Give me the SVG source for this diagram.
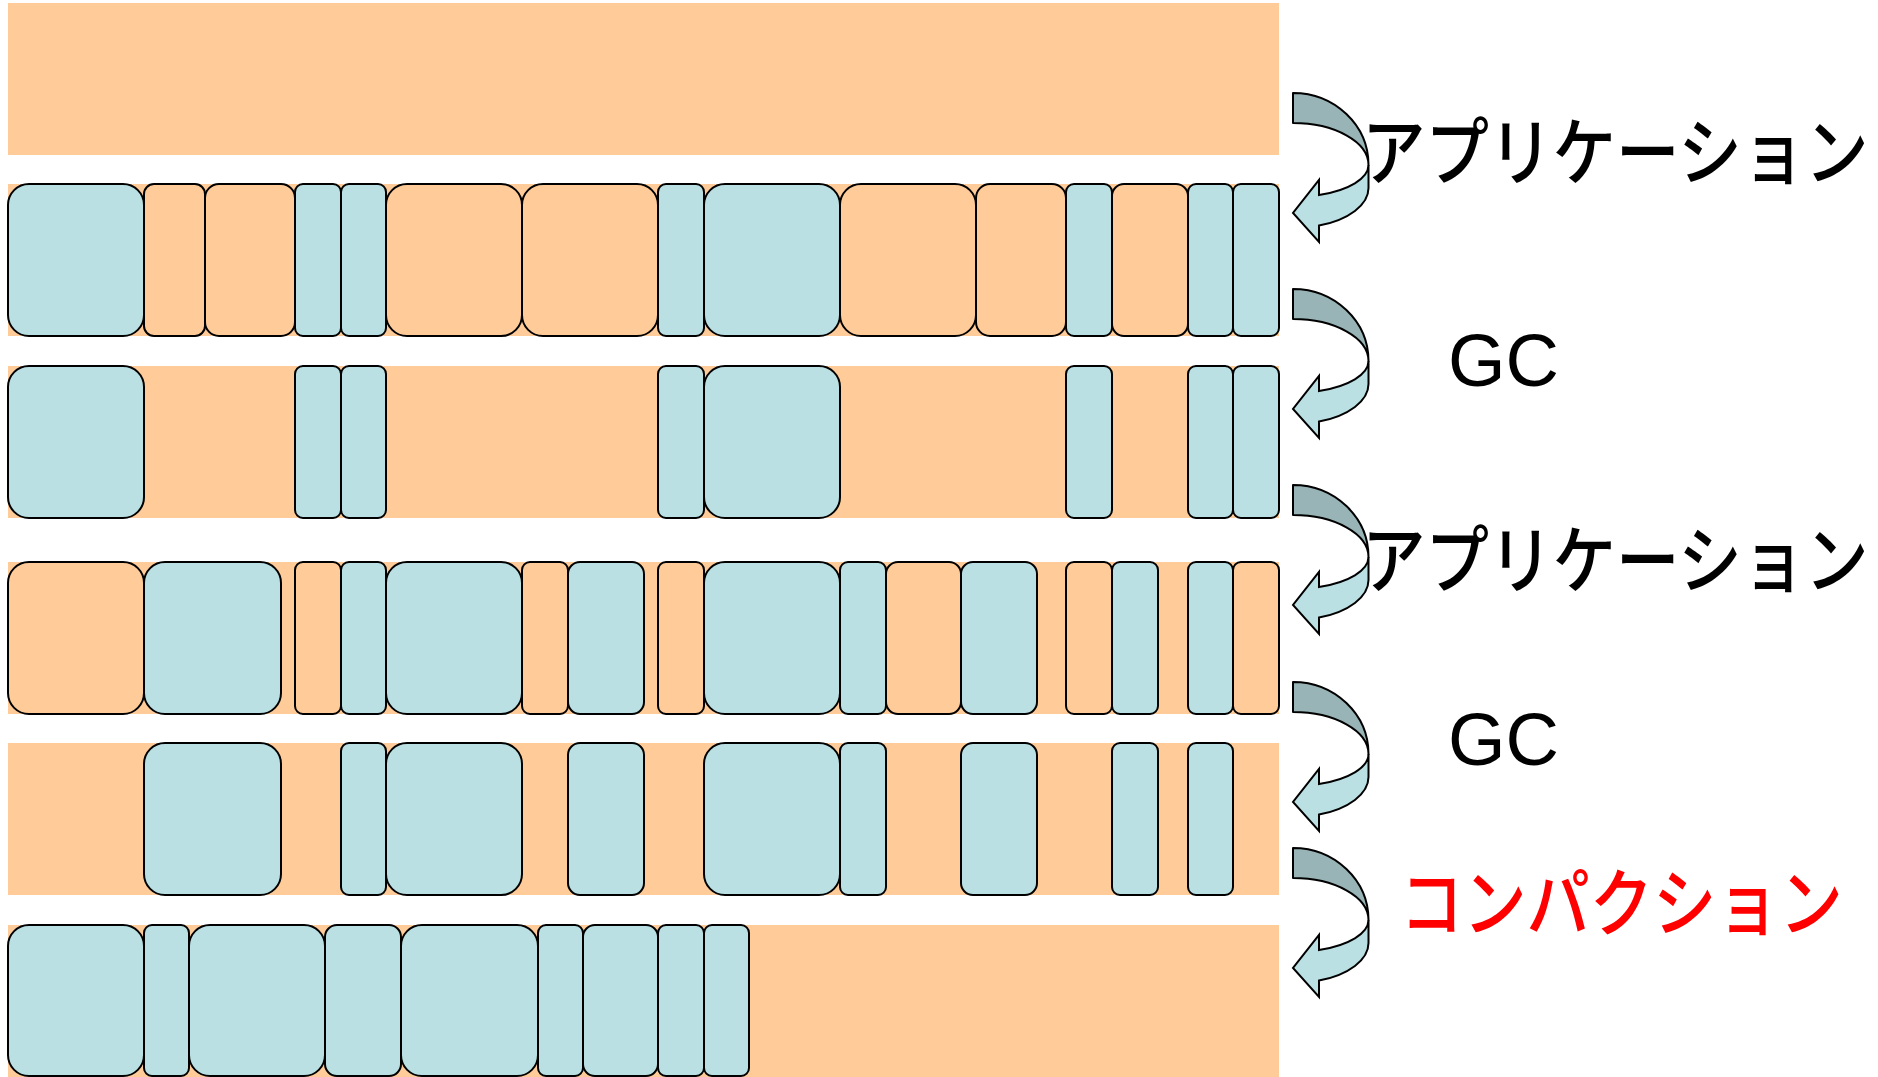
<svg xmlns="http://www.w3.org/2000/svg" width="1878" height="1077" viewBox="0 0 1878 1077">
<style>
.band{fill:#FFCC99}
.b{fill:#BBE0E3;stroke:#000;stroke-width:2}
.o{fill:#FFCC99;stroke:#000;stroke-width:2}
.ad{fill:#98B4B6;stroke:#000;stroke-width:2;stroke-linejoin:round}
.al{fill:#BBE0E3;stroke:#000;stroke-width:2;stroke-linejoin:miter}
.jp{font-family:"Noto Sans CJK JP","Noto Sans CJK SC",sans-serif;font-size:74px;font-weight:500}
.gc{font-family:"Liberation Sans",Arial,sans-serif;font-size:74px;fill:#000}
</style>
<defs>
<g id="carrow">
<path class="al" d="M75.5,72 L75.5,95 A75.5,40 0 0 1 26,132.6 L26,149 L0,120 L26,87 L26,102 A75.5,32 0 0 0 75.5,72 Z"/>
<path class="ad" d="M0,0 A75.5,72 0 0 1 75.5,72 A75.5,42 0 0 0 0,30 Z"/>
</g>
</defs>
<rect width="1878" height="1077" fill="#fff"/>

<g id="row1">
<rect class="band" x="8" y="3" width="1271" height="152"/>
</g>

<g id="row2">
<rect class="band" x="8" y="184" width="1271" height="152"/>
<rect class="b" x="8" y="184" width="136" height="152" rx="21"/>
<rect class="o" x="144" y="184" width="61" height="152" rx="10"/>
<rect class="o" x="205" y="184" width="90" height="152" rx="14"/>
<rect class="b" x="295" y="184" width="46" height="152" rx="8"/>
<rect class="b" x="341" y="184" width="45" height="152" rx="8"/>
<rect class="o" x="386" y="184" width="136" height="152" rx="21"/>
<rect class="o" x="522" y="184" width="136" height="152" rx="21"/>
<rect class="b" x="658" y="184" width="46" height="152" rx="8"/>
<rect class="b" x="704" y="184" width="136" height="152" rx="21"/>
<rect class="o" x="840" y="184" width="136" height="152" rx="21"/>
<rect class="o" x="976" y="184" width="90" height="152" rx="14"/>
<rect class="b" x="1066" y="184" width="46" height="152" rx="8"/>
<rect class="o" x="1112" y="184" width="76" height="152" rx="12"/>
<rect class="b" x="1188" y="184" width="45" height="152" rx="8"/>
<rect class="b" x="1233" y="184" width="46" height="152" rx="8"/>
</g>

<g id="row3">
<rect class="band" x="8" y="366" width="1271" height="152"/>
<rect class="b" x="8" y="366" width="136" height="152" rx="21"/>
<rect class="b" x="295" y="366" width="46" height="152" rx="8"/>
<rect class="b" x="341" y="366" width="45" height="152" rx="8"/>
<rect class="b" x="658" y="366" width="46" height="152" rx="8"/>
<rect class="b" x="704" y="366" width="136" height="152" rx="21"/>
<rect class="b" x="1066" y="366" width="46" height="152" rx="8"/>
<rect class="b" x="1188" y="366" width="45" height="152" rx="8"/>
<rect class="b" x="1233" y="366" width="46" height="152" rx="8"/>
</g>

<g id="row4">
<rect class="band" x="8" y="562" width="1271" height="152"/>
<rect class="o" x="8" y="562" width="136" height="152" rx="21"/>
<rect class="b" x="144" y="562" width="137" height="152" rx="21"/>
<rect class="o" x="295" y="562" width="46" height="152" rx="8"/>
<rect class="b" x="341" y="562" width="45" height="152" rx="8"/>
<rect class="b" x="386" y="562" width="136" height="152" rx="21"/>
<rect class="o" x="522" y="562" width="46" height="152" rx="8"/>
<rect class="b" x="568" y="562" width="76" height="152" rx="12"/>
<rect class="o" x="658" y="562" width="46" height="152" rx="8"/>
<rect class="b" x="704" y="562" width="136" height="152" rx="21"/>
<rect class="b" x="840" y="562" width="46" height="152" rx="8"/>
<rect class="o" x="886" y="562" width="75" height="152" rx="12"/>
<rect class="b" x="961" y="562" width="76" height="152" rx="12"/>
<rect class="o" x="1066" y="562" width="46" height="152" rx="8"/>
<rect class="b" x="1112" y="562" width="46" height="152" rx="8"/>
<rect class="b" x="1188" y="562" width="45" height="152" rx="8"/>
<rect class="o" x="1233" y="562" width="46" height="152" rx="8"/>
</g>

<g id="row5">
<rect class="band" x="8" y="743" width="1271" height="152"/>
<rect class="b" x="144" y="743" width="137" height="152" rx="21"/>
<rect class="b" x="341" y="743" width="45" height="152" rx="8"/>
<rect class="b" x="386" y="743" width="136" height="152" rx="21"/>
<rect class="b" x="568" y="743" width="76" height="152" rx="12"/>
<rect class="b" x="704" y="743" width="136" height="152" rx="21"/>
<rect class="b" x="840" y="743" width="46" height="152" rx="8"/>
<rect class="b" x="961" y="743" width="76" height="152" rx="12"/>
<rect class="b" x="1112" y="743" width="46" height="152" rx="8"/>
<rect class="b" x="1188" y="743" width="45" height="152" rx="8"/>
</g>

<g id="row6">
<rect class="band" x="8" y="925" width="1271" height="152"/>
<rect class="b" x="8" y="925" width="136" height="151" rx="21"/>
<rect class="b" x="144" y="925" width="45" height="151" rx="8"/>
<rect class="b" x="189" y="925" width="136" height="151" rx="21"/>
<rect class="b" x="325" y="925" width="76" height="151" rx="12"/>
<rect class="b" x="401" y="925" width="137" height="151" rx="21"/>
<rect class="b" x="538" y="925" width="45" height="151" rx="8"/>
<rect class="b" x="583" y="925" width="75" height="151" rx="12"/>
<rect class="b" x="658" y="925" width="46" height="151" rx="8"/>
<rect class="b" x="704" y="925" width="45" height="151" rx="8"/>
</g>

<g id="connectors">
<use href="#carrow" x="1293" y="93"/>
<use href="#carrow" x="1293" y="289"/>
<use href="#carrow" x="1293" y="485"/>
<use href="#carrow" x="1293" y="682"/>
<use href="#carrow" x="1293" y="848"/>
</g>

<g id="labels">
<text class="jp" transform="translate(1362,179) scale(0.858,1)" fill="#000">アプリケーション</text>
<text class="gc" x="1448" y="386">GC</text>
<text class="jp" transform="translate(1362,587) scale(0.858,1)" fill="#000">アプリケーション</text>
<text class="gc" x="1448" y="765">GC</text>
<text class="jp" transform="translate(1400,930) scale(0.855,1)" fill="#FF0000">コンパクション</text>
</g>
</svg>
